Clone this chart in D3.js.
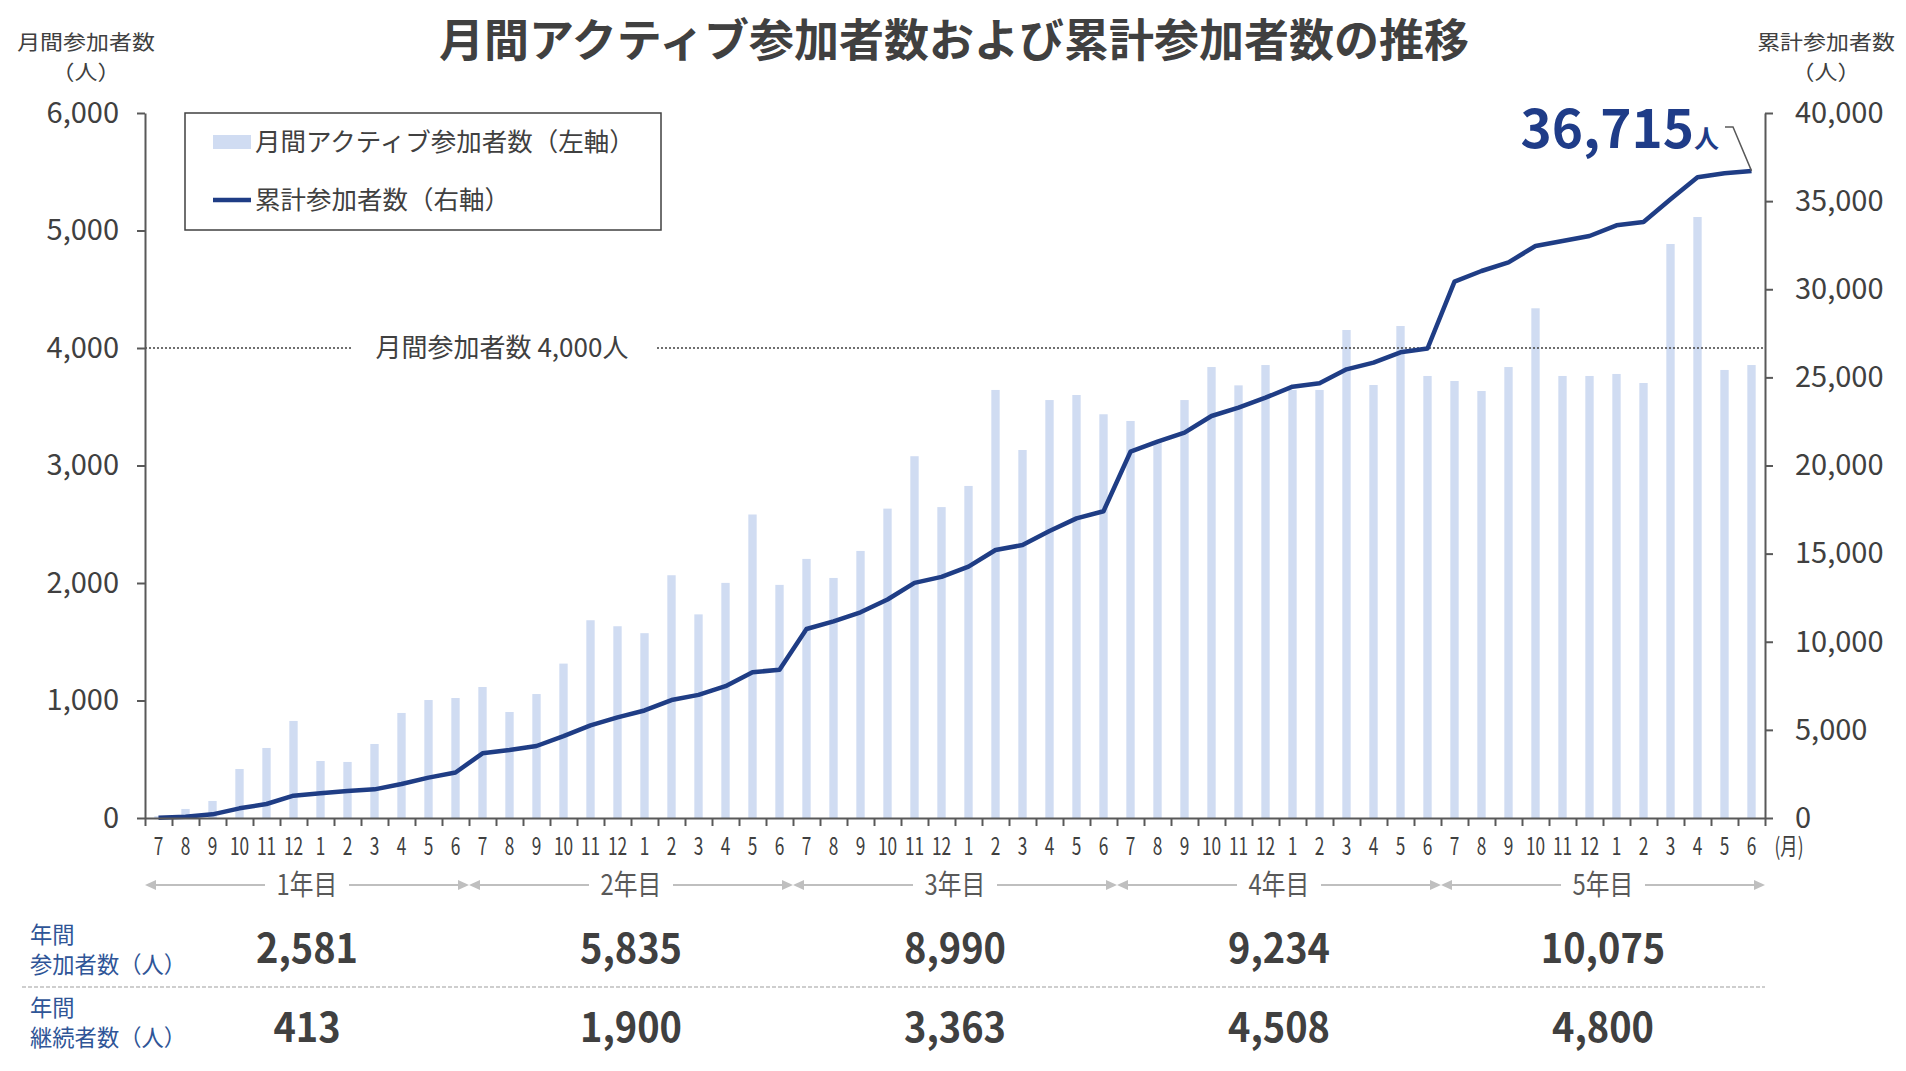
<!DOCTYPE html>
<html lang="ja">
<head>
<meta charset="utf-8">
<script src="https://cdn.jsdelivr.net/npm/d3@7"></script>
<style>
  body { margin: 0; background: #fff; }
  svg { display: block; font-family: "Noto Sans CJK JP", "Noto Sans", sans-serif; }
</style>
</head>
<body>
<svg id="chart" width="1906" height="1071"></svg>
<script>
// months 7..6, five years
var monthLabels = ["7", "8", "9", "10", "11", "12", "1", "2", "3", "4", "5", "6"];
var yearLabels = ["1年目", "2年目", "3年目", "4年目", "5年目"];

// monthly active participants (left axis)
var monthlyActive = [
    15, 77, 145, 417, 596, 826, 485, 477, 630, 894, 1004, 1021,
    1115, 902, 1055, 1314, 1683, 1632, 1573, 2066, 1733, 2001, 2583, 1984,
    2205, 2043, 2273, 2633, 3079, 2646, 2826, 3643, 3132, 3557, 3600, 3436,
    3379, 3200, 3557, 3838, 3682, 3855, 3643, 3643, 4153, 3685, 4187, 3762,
    3719, 3634, 3838, 4338, 3762, 3762, 3779, 3702, 4885, 5115, 3813, 3855
];

// cumulative participants (right axis)
var cumulative = [
    20, 76, 208, 548, 794, 1267, 1400, 1532, 1626, 1929, 2289, 2581,
    3669, 3858, 4085, 4650, 5255, 5707, 6101, 6691, 6987, 7478, 8266, 8416,
    10725, 11158, 11670, 12398, 13343, 13680, 14260, 15206, 15489, 16284, 17002, 17406,
    20783, 21350, 21862, 22809, 23281, 23849, 24472, 24662, 25456, 25834, 26424, 26640,
    30430, 31036, 31527, 32454, 32738, 33021, 33627, 33816, 35102, 36350, 36577, 36715
];

var annualParticipants = [2581, 5835, 8990, 9234, 10075];
var annualContinuing = [413, 1900, 3363, 4508, 4800];
var leftTicks = [0, 1000, 2000, 3000, 4000, 5000, 6000];
var rightTicks = [0, 5000, 10000, 15000, 20000, 25000, 30000, 35000, 40000];
var refValue = 4000;

var textColor = "#404040";
var axisColor = "#595959";
var barColor = "#d0dcf2";
var lineColor = "#1f3d85";
var labelBlue = "#2f5597";

var svg = d3.select("#chart");
var margin = { top: 113, right: 141, bottom: 253, left: 145 };
var width = 1906 - margin.left - margin.right,
    height = 1071 - margin.top - margin.bottom;

var nMonths = monthlyActive.length;
var x = d3.scaleBand()
    .domain(d3.range(nMonths))
    .range([margin.left, margin.left + width]);
var xi = d3.scaleLinear()
    .domain([0, nMonths])
    .range([margin.left, margin.left + width]);
var yL = d3.scaleLinear().domain([0, 6000]).range([margin.top + height, margin.top]);
var yR = d3.scaleLinear().domain([0, 40000]).range([margin.top + height, margin.top]);

// text helper: condensed text via horizontal scale
function ctext(g, tx, ty, str, sx, size, weight, color, anchor) {
    return g.append("text")
        .attr("transform", `translate(${tx},${ty}) scale(${sx},1)`)
        .attr("text-anchor", anchor || "middle")
        .attr("dy", "0.35em")
        .attr("font-size", size)
        .attr("font-weight", weight || "normal")
        .attr("fill", color)
        .text(str);
}

// two-line text in one element
function text2(g, tx, ty, lines, gap, size, color, anchor, sx) {
    var t = g.append("text")
        .attr("transform", `translate(${tx},${ty}) scale(${sx || 1},1)`)
        .attr("text-anchor", anchor)
        .attr("font-size", size)
        .attr("fill", color);
    lines.forEach(function(s, i) {
        t.append("tspan").attr("x", 0).attr("y", i * gap).attr("dy", "0.35em").text(s);
    });
    return t;
}

// Title
svg.append("text")
    .attr("x", 954)
    .attr("y", 41)
    .attr("dy", "0.35em")
    .attr("text-anchor", "middle")
    .attr("font-size", 45)
    .attr("font-weight", "bold")
    .attr("fill", textColor)
    .text("月間アクティブ参加者数および累計参加者数の推移");

// axis titles
text2(svg, 86, 43, ["月間参加者数", "（人）"], 30, 20.5, textColor, "middle", 1.12);
text2(svg, 1826, 43, ["累計参加者数", "（人）"], 30, 20.5, textColor, "middle", 1.12);

// Bars
var barW = x.bandwidth() * 0.31;
svg.append("g")
    .selectAll("rect")
    .data(monthlyActive)
    .join("rect")
        .attr("x", (d, i) => x(i) + (x.bandwidth() - barW) / 2)
        .attr("y", d => yL(d))
        .attr("width", barW)
        .attr("height", d => yL(0) - yL(d))
        .attr("fill", barColor);

// Reference line at 4,000
var refY = yL(refValue);
svg.append("line")
    .attr("x1", margin.left).attr("x2", margin.left + width)
    .attr("y1", refY).attr("y2", refY)
    .attr("stroke", textColor)
    .attr("stroke-width", 1.5)
    .attr("stroke-dasharray", "2,2");
svg.append("rect")
    .attr("x", 352).attr("y", refY - 16)
    .attr("width", 303).attr("height", 32)
    .attr("fill", "#fff");
svg.append("text")
    .attr("x", 502).attr("y", refY).attr("dy", "0.35em")
    .attr("text-anchor", "middle")
    .attr("font-size", 26)
    .attr("fill", textColor)
    .text("月間参加者数 4,000人");

// Cumulative line
var line = d3.line()
    .x((d, i) => x(i) + x.bandwidth() / 2)
    .y(d => yR(d));
svg.append("path")
    .datum(cumulative)
    .attr("fill", "none")
    .attr("stroke", lineColor)
    .attr("stroke-width", 4.5)
    .attr("stroke-linejoin", "round")
    .attr("d", line);

// Axes
function styleAxis(g, size) {
    g.select(".domain").attr("stroke", axisColor).attr("stroke-width", 2);
    g.selectAll(".tick line").attr("stroke", axisColor).attr("stroke-width", 2);
    g.selectAll(".tick text").attr("fill", textColor).attr("font-size", size)
        .attr("font-family", "\"Noto Sans CJK JP\", sans-serif");
}

var leftAxis = svg.append("g")
    .attr("transform", `translate(${margin.left},0)`)
    .call(d3.axisLeft(yL).tickValues(leftTicks).tickFormat(d3.format(",")).tickSize(8).tickPadding(18).tickSizeOuter(0));
styleAxis(leftAxis, 29);

var rightAxis = svg.append("g")
    .attr("transform", `translate(${margin.left + width},0)`)
    .call(d3.axisRight(yR).tickValues(rightTicks).tickFormat(d3.format(",")).tickSize(8).tickPadding(22).tickSizeOuter(0));
styleAxis(rightAxis, 29);

var bottomAxis = svg.append("g")
    .attr("transform", `translate(0,${margin.top + height})`)
    .call(d3.axisBottom(xi).tickValues(d3.range(nMonths + 1)).tickFormat("").tickSize(8).tickSizeOuter(0));
styleAxis(bottomAxis, 20);

// month labels
var monthG = svg.append("g");
d3.range(nMonths).forEach(function(i) {
    ctext(monthG, x(i) + x.bandwidth() / 2, 847, monthLabels[i % 12], 0.72, 24, "normal", textColor);
});
ctext(monthG, 1789, 847, "(月)", 0.72, 24, "normal", textColor);

// year arrows
var arrowColor = "#bfbfbf";
var yearY = 885;
var yearG = svg.append("g");
yearLabels.forEach(function(lab, k) {
    var xs = xi(k * 12), xe = xi(k * 12 + 12), xm = (xs + xe) / 2;
    yearG.append("line")
        .attr("x1", xs + 4).attr("x2", xe - 4)
        .attr("y1", yearY).attr("y2", yearY)
        .attr("stroke", arrowColor).attr("stroke-width", 2);
    yearG.append("path")
        .attr("d", `M${xs},${yearY} L${xs + 11},${yearY - 5} L${xs + 11},${yearY + 5} Z`)
        .attr("fill", arrowColor);
    yearG.append("path")
        .attr("d", `M${xe},${yearY} L${xe - 11},${yearY - 5} L${xe - 11},${yearY + 5} Z`)
        .attr("fill", arrowColor);
    yearG.append("rect")
        .attr("x", xm - 42).attr("y", yearY - 15)
        .attr("width", 84).attr("height", 30)
        .attr("fill", "#fff");
    ctext(yearG, xm, yearY, lab, 0.85, 28, "normal", axisColor);
});

// table rows
var tableG = svg.append("g");
text2(tableG, 30, 935, ["年間", "参加者数（人）"], 30, 23, labelBlue, "start", 0.97);
text2(tableG, 30, 1008, ["年間", "継続者数（人）"], 30, 23, labelBlue, "start", 0.97);

annualParticipants.forEach(function(v, k) {
    ctext(tableG, xi(k * 12 + 6), 949, d3.format(",")(v), 0.95, 40, "bold", textColor);
});
annualContinuing.forEach(function(v, k) {
    ctext(tableG, xi(k * 12 + 6), 1028, d3.format(",")(v), 0.95, 40, "bold", textColor);
});
tableG.append("line")
    .attr("x1", 22).attr("x2", margin.left + width)
    .attr("y1", 987).attr("y2", 987)
    .attr("stroke", "#bfbfbf")
    .attr("stroke-width", 1.5)
    .attr("stroke-dasharray", "4,2");

// Legend
var legend = svg.append("g");
legend.append("rect")
    .attr("x", 185).attr("y", 113)
    .attr("width", 476).attr("height", 117)
    .attr("fill", "#fff")
    .attr("stroke", textColor)
    .attr("stroke-width", 1.5);
legend.append("rect")
    .attr("x", 213).attr("y", 135)
    .attr("width", 38).attr("height", 14)
    .attr("fill", barColor);
legend.append("text")
    .attr("x", 255).attr("y", 142).attr("dy", "0.35em")
    .attr("font-size", 25.5).attr("fill", textColor)
    .text("月間アクティブ参加者数（左軸）");
legend.append("line")
    .attr("x1", 213).attr("x2", 251)
    .attr("y1", 200).attr("y2", 200)
    .attr("stroke", lineColor).attr("stroke-width", 4.5);
legend.append("text")
    .attr("x", 255).attr("y", 200).attr("dy", "0.35em")
    .attr("font-size", 25.5).attr("fill", textColor)
    .text("累計参加者数（右軸）");

// Annotation of last value
var lastI = nMonths - 1;
var lastX = x(lastI) + x.bandwidth() / 2, lastY = yR(cumulative[lastI]);
svg.append("path")
    .attr("d", `M1725,127 L1733,127 L${lastX},${lastY}`)
    .attr("fill", "none")
    .attr("stroke", axisColor)
    .attr("stroke-width", 1.5);
var ann = svg.append("text")
    .attr("x", 1719).attr("y", 148)
    .attr("text-anchor", "end")
    .attr("fill", "#1f3c88")
    .attr("font-weight", "bold");
ann.append("tspan").attr("font-size", 53).text(d3.format(",")(cumulative[lastI]));
ann.append("tspan").attr("font-size", 25).text("人");
</script>
</body>
</html>
